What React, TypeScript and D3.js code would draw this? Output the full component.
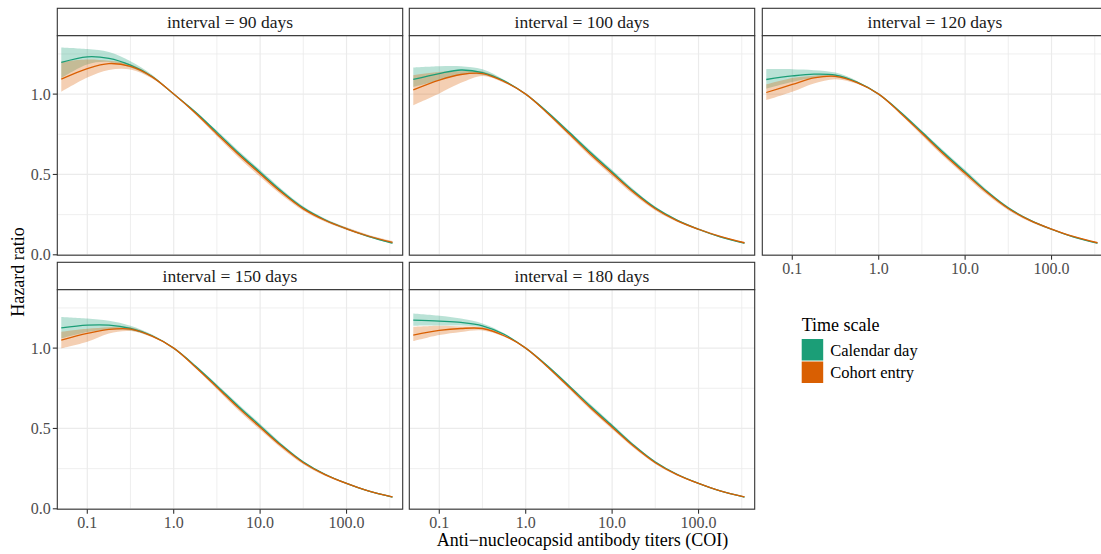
import React, { useEffect } from "react";
import * as d3 from "d3";

// ---------- data ----------
const TITERS = [0.05, 0.1, 0.178, 0.316, 0.562, 1, 1.78, 3.16, 5.62, 10, 17.8, 31.6, 56.2, 100, 178, 340];
const INTERVALS = ["90", "100", "120", "150", "180"];
const SERIES = ["Calendar day", "Cohort entry"];
const COLORS = ["#1B9E77", "#D95F02"];
const Y_TICKS = [0, 0.5, 1.0];
const Y_MINOR = [0.25, 0.75, 1.25];
const X_TICKS = [0.1, 1, 10, 100];
const X_MINOR = [0.316, 3.16, 31.6, 316];

// interval = 90 days
const cal90 = [1.197, 1.232, 1.222, 1.18, 1.11, 1.0, 0.888, 0.762, 0.634, 0.514, 0.395, 0.292, 0.218, 0.162, 0.115, 0.073];
const cal90Lo = [1.1, 1.185, 1.2, 1.165, 1.102, 1.0, 0.882, 0.754, 0.623, 0.502, 0.385, 0.284, 0.212, 0.157, 0.111, 0.068];
const cal90Hi = [1.29, 1.28, 1.262, 1.205, 1.12, 1.0, 0.895, 0.773, 0.648, 0.529, 0.408, 0.302, 0.226, 0.169, 0.121, 0.08];
const coh90 = [1.093, 1.159, 1.19, 1.172, 1.107, 1.0, 0.882, 0.752, 0.624, 0.504, 0.387, 0.286, 0.215, 0.162, 0.117, 0.077];
const coh90Lo = [1.014, 1.103, 1.15, 1.153, 1.097, 1.0, 0.873, 0.738, 0.606, 0.485, 0.37, 0.274, 0.205, 0.154, 0.11, 0.069];
const coh90Hi = [1.2, 1.215, 1.207, 1.186, 1.115, 1.0, 0.887, 0.76, 0.632, 0.512, 0.394, 0.292, 0.222, 0.171, 0.125, 0.086];

// interval = 100 days
const cal100 = [1.091, 1.128, 1.15, 1.134, 1.082, 1.0, 0.889, 0.764, 0.636, 0.515, 0.395, 0.292, 0.216, 0.159, 0.112, 0.072];
const cal100Lo = [1.045, 1.087, 1.122, 1.12, 1.076, 1.0, 0.884, 0.757, 0.626, 0.504, 0.386, 0.285, 0.211, 0.155, 0.108, 0.068];
const cal100Hi = [1.166, 1.174, 1.174, 1.155, 1.09, 1.0, 0.895, 0.774, 0.649, 0.529, 0.406, 0.3, 0.222, 0.164, 0.116, 0.077];
const coh100 = [1.026, 1.087, 1.122, 1.128, 1.078, 1.0, 0.883, 0.755, 0.626, 0.506, 0.388, 0.287, 0.213, 0.159, 0.114, 0.075];
const coh100Lo = [0.931, 1.004, 1.07, 1.113, 1.07, 1.0, 0.875, 0.742, 0.61, 0.489, 0.373, 0.276, 0.205, 0.153, 0.109, 0.069];
const coh100Hi = [1.118, 1.138, 1.142, 1.14, 1.085, 1.0, 0.888, 0.762, 0.634, 0.514, 0.395, 0.293, 0.219, 0.165, 0.119, 0.08];

// interval = 120 days
const cal120 = [1.091, 1.113, 1.124, 1.118, 1.074, 1.0, 0.889, 0.764, 0.636, 0.515, 0.395, 0.292, 0.216, 0.159, 0.112, 0.072];
const cal120Lo = [1.035, 1.076, 1.1, 1.105, 1.068, 1.0, 0.884, 0.757, 0.626, 0.504, 0.386, 0.285, 0.211, 0.155, 0.108, 0.068];
const cal120Hi = [1.155, 1.155, 1.149, 1.134, 1.082, 1.0, 0.895, 0.774, 0.649, 0.529, 0.405, 0.299, 0.221, 0.163, 0.116, 0.076];
const coh120 = [1.01, 1.06, 1.101, 1.111, 1.072, 1.0, 0.883, 0.756, 0.627, 0.507, 0.389, 0.288, 0.214, 0.16, 0.114, 0.075];
const coh120Lo = [0.962, 1.014, 1.066, 1.093, 1.064, 1.0, 0.875, 0.743, 0.611, 0.491, 0.375, 0.278, 0.206, 0.154, 0.109, 0.07];
const coh120Hi = [1.06, 1.1, 1.115, 1.12, 1.078, 1.0, 0.888, 0.763, 0.635, 0.515, 0.396, 0.294, 0.219, 0.165, 0.118, 0.079];

// interval = 150 days
const cal150 = [1.126, 1.143, 1.143, 1.122, 1.077, 1.0, 0.889, 0.765, 0.637, 0.516, 0.395, 0.291, 0.215, 0.158, 0.111, 0.073];
const cal150Lo = [1.06, 1.1, 1.115, 1.11, 1.071, 1.0, 0.884, 0.758, 0.627, 0.505, 0.386, 0.284, 0.21, 0.154, 0.107, 0.069];
const cal150Hi = [1.194, 1.184, 1.17, 1.139, 1.084, 1.0, 0.895, 0.775, 0.65, 0.529, 0.405, 0.298, 0.22, 0.162, 0.115, 0.077];
const coh150 = [1.05, 1.091, 1.116, 1.118, 1.074, 1.0, 0.883, 0.757, 0.628, 0.507, 0.389, 0.287, 0.213, 0.158, 0.112, 0.074];
const coh150Lo = [0.998, 1.039, 1.091, 1.106, 1.067, 1.0, 0.876, 0.744, 0.612, 0.492, 0.376, 0.278, 0.206, 0.153, 0.108, 0.07];
const coh150Hi = [1.101, 1.12, 1.13, 1.13, 1.08, 1.0, 0.888, 0.764, 0.636, 0.515, 0.396, 0.293, 0.218, 0.163, 0.116, 0.078];

// interval = 180 days
const cal180 = [1.174, 1.168, 1.16, 1.139, 1.086, 1.0, 0.89, 0.766, 0.638, 0.517, 0.395, 0.291, 0.215, 0.158, 0.111, 0.073];
const cal180Lo = [1.139, 1.14, 1.14, 1.128, 1.081, 1.0, 0.886, 0.76, 0.629, 0.507, 0.387, 0.285, 0.21, 0.154, 0.108, 0.07];
const cal180Hi = [1.215, 1.201, 1.184, 1.153, 1.092, 1.0, 0.895, 0.774, 0.65, 0.528, 0.404, 0.297, 0.219, 0.162, 0.114, 0.076];
const coh180 = [1.081, 1.11, 1.122, 1.122, 1.077, 1.0, 0.884, 0.758, 0.629, 0.508, 0.389, 0.287, 0.213, 0.158, 0.112, 0.074];
const coh180Lo = [1.043, 1.081, 1.101, 1.11, 1.071, 1.0, 0.878, 0.747, 0.615, 0.495, 0.378, 0.279, 0.207, 0.154, 0.109, 0.071];
const coh180Hi = [1.132, 1.139, 1.135, 1.13, 1.082, 1.0, 0.888, 0.764, 0.636, 0.515, 0.395, 0.292, 0.217, 0.162, 0.115, 0.077];

const PANEL_DATA = [
  [[cal90, cal90Lo, cal90Hi], [coh90, coh90Lo, coh90Hi]],
  [[cal100, cal100Lo, cal100Hi], [coh100, coh100Lo, coh100Hi]],
  [[cal120, cal120Lo, cal120Hi], [coh120, coh120Lo, coh120Hi]],
  [[cal150, cal150Lo, cal150Hi], [coh150, coh150Lo, coh150Hi]],
  [[cal180, cal180Lo, cal180Hi], [coh180, coh180Lo, coh180Hi]],
];

// ---------- layout ----------
const W = 1101;
const H = 554;
const COL_X = [57.3, 409.3, 762.3];
const PW = 345.4;
const STRIP_Y = [8.3, 262.3];
const STRIP_H = 27.4;
const PH = 219.5;
const FONT = "'Liberation Serif', 'DejaVu Serif', serif";
const BORDER = "#333333";
const GRID = "#EBEBEB";

const xScale = d3.scaleLog().domain([Math.pow(10, -1.347), Math.pow(10, 2.65)]).range([0, PW]);
const yScale = d3.scaleLinear().domain([-0.0025, 1.3635]).range([PH, 0]);

type Pt = { x: number; v: number; lo: number; hi: number };

function Panel({ idx }: { idx: number }) {
  const col = idx % 3;
  const row = Math.floor(idx / 3);
  const px = COL_X[col];
  const sy = STRIP_Y[row];
  const py = sy + STRIP_H;
  const clipId = `clip-${idx}`;
  const series = PANEL_DATA[idx];
  const showX = idx >= 2;
  const showY = col === 0;

  const curve = d3.curveCatmullRom.alpha(0.5);
  const line = d3
    .line<Pt>()
    .x((d) => xScale(d.x))
    .y((d) => yScale(d.v))
    .curve(curve);
  const area = d3
    .area<Pt>()
    .x((d) => xScale(d.x))
    .y0((d) => yScale(d.lo))
    .y1((d) => yScale(d.hi))
    .curve(curve);

  const pts = series.map(([est, lo, hi]) =>
    TITERS.map((x, i) => ({ x, v: est[i], lo: lo[i], hi: hi[i] }))
  );

  return (
    <g>
      <rect x={px} y={sy} width={PW} height={STRIP_H} fill="#FFFFFF" stroke={BORDER} strokeWidth={1.1} />
      <text
        x={px + PW / 2}
        y={sy + STRIP_H / 2}
        dy="0.35em"
        textAnchor="middle"
        fontFamily={FONT}
        fontSize={17.5}
        fill="#1A1A1A"
      >
        {`interval = ${INTERVALS[idx]} days`}
      </text>
      <g transform={`translate(${px},${py})`}>
        <defs>
          <clipPath id={clipId}>
            <rect x={0} y={0} width={PW} height={PH} />
          </clipPath>
        </defs>
        <rect x={0} y={0} width={PW} height={PH} fill="#FFFFFF" />
        <g clipPath={`url(#${clipId})`}>
          {Y_MINOR.map((t) => (
            <line key={`ym${t}`} x1={0} x2={PW} y1={yScale(t)} y2={yScale(t)} stroke={GRID} strokeWidth={0.8} />
          ))}
          {X_MINOR.map((t) => (
            <line key={`xm${t}`} x1={xScale(t)} x2={xScale(t)} y1={0} y2={PH} stroke={GRID} strokeWidth={0.8} />
          ))}
          {Y_TICKS.map((t) => (
            <line key={`yM${t}`} x1={0} x2={PW} y1={yScale(t)} y2={yScale(t)} stroke={GRID} strokeWidth={1.2} />
          ))}
          {X_TICKS.map((t) => (
            <line key={`xM${t}`} x1={xScale(t)} x2={xScale(t)} y1={0} y2={PH} stroke={GRID} strokeWidth={1.2} />
          ))}
          {pts.map((p, i) => (
            <path key={`r${i}`} d={area(p) || ""} fill={COLORS[i]} fillOpacity={0.3} stroke="none" />
          ))}
          {pts.map((p, i) => (
            <path key={`l${i}`} d={line(p) || ""} fill="none" stroke={COLORS[i]} strokeWidth={1.3} />
          ))}
        </g>
        <rect x={0} y={0} width={PW} height={PH} fill="none" stroke={BORDER} strokeWidth={1.1} />
        {showY &&
          Y_TICKS.map((t) => (
            <g key={`yt${t}`}>
              <line x1={-4.5} x2={0} y1={yScale(t)} y2={yScale(t)} stroke={BORDER} strokeWidth={1.1} />
              <text
                x={-6.5}
                y={yScale(t)}
                dy="0.35em"
                textAnchor="end"
                fontFamily={FONT}
                fontSize={16}
                fill="#4D4D4D"
              >
                {d3.format(".1f")(t)}
              </text>
            </g>
          ))}
        {showX &&
          X_TICKS.map((t) => (
            <g key={`xt${t}`}>
              <line x1={xScale(t)} x2={xScale(t)} y1={PH} y2={PH + 4.5} stroke={BORDER} strokeWidth={1.1} />
              <text
                x={xScale(t)}
                y={PH + 13}
                dy="0.35em"
                textAnchor="middle"
                fontFamily={FONT}
                fontSize={16}
                fill="#4D4D4D"
              >
                {d3.format(".1f")(t)}
              </text>
            </g>
          ))}
      </g>
    </g>
  );
}

export default function App() {
  useEffect(() => {
    document.body.style.margin = "0";
  }, []);
  const legendX = 801.7;
  const keyTop = 339;
  const keySize = 21.5;
  return (
    <svg
      width={W}
      height={H}
      viewBox={`0 0 ${W} ${H}`}
      style={{ position: "absolute", left: 0, top: 0, display: "block", background: "#FFFFFF" }}
    >
      <rect x={0} y={0} width={W} height={H} fill="#FFFFFF" />
      {INTERVALS.map((_, i) => (
        <Panel key={i} idx={i} />
      ))}
      <text x={582.5} y={540} dy="0.35em" textAnchor="middle" fontFamily={FONT} fontSize={18} fill="#000000">
        Anti−nucleocapsid antibody titers (COI)
      </text>
      <text
        transform={`translate(18,272) rotate(-90)`}
        dy="0.35em"
        textAnchor="middle"
        fontFamily={FONT}
        fontSize={18}
        fill="#000000"
      >
        Hazard ratio
      </text>
      <text x={legendX} y={325} dy="0.35em" fontFamily={FONT} fontSize={18} fill="#000000">
        Time scale
      </text>
      {SERIES.map((s, i) => (
        <g key={s}>
          <rect x={legendX} y={keyTop + i * (keySize + 1)} width={keySize} height={keySize} fill={COLORS[i]} />
          <text
            x={legendX + keySize + 7}
            y={keyTop + i * (keySize + 1) + keySize / 2}
            dy="0.35em"
            fontFamily={FONT}
            fontSize={16.5}
            fill="#000000"
          >
            {s}
          </text>
        </g>
      ))}
    </svg>
  );
}
